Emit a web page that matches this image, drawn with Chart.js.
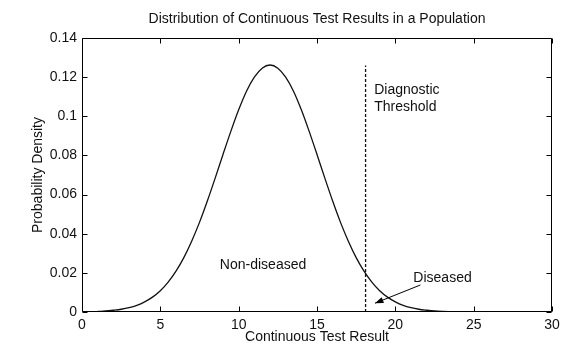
<!DOCTYPE html>
<html>
<head>
<meta charset="utf-8">
<script src="https://cdn.jsdelivr.net/npm/chart.js@4.4.0/dist/chart.umd.min.js"></script>
<style>
html, body { margin: 0; padding: 0; background: #fff; }
#wrap { width: 561px; height: 344px; }
</style>
</head>
<body>
<div id="wrap"><canvas id="chart"></canvas></div>
<script>
// values
var testResult = [1, 1.5, 2, 2.5, 3, 3.5, 4, 4.5, 5, 5.5, 6, 6.5, 7, 7.5, 8, 8.5, 9, 9.5, 10, 10.5, 11, 11.5, 12,
    12.5, 13, 13.5, 14, 14.5, 15, 15.5, 16, 16.5, 17, 17.5, 18, 18.5, 19, 19.5, 20, 20.5, 21, 21.5, 22, 22.5, 23, 24, 25, 30];
var density = [0.0003, 0.0005, 0.0009, 0.0014, 0.0022, 0.0034, 0.0052, 0.0076, 0.0109, 0.0153, 0.0209, 0.0278, 0.0362, 0.0458, 0.0567, 0.0684, 0.0805, 0.0923, 0.1033, 0.1128, 0.1200, 0.1246, 0.1262,
    0.1246, 0.1200, 0.1128, 0.1033, 0.0923, 0.0805, 0.0684, 0.0567, 0.0458, 0.0362, 0.0278, 0.0209, 0.0153, 0.0109, 0.0076, 0.0052, 0.0034, 0.0022, 0.0014, 0.0009, 0.0005, 0.0003, 0.0001, 0, 0];
var thresholdX = [18.1, 18.1];
var thresholdY = [0, 0.126];
var xTicks = [0, 5, 10, 15, 20, 25, 30];
var yTicks = [0, 0.02, 0.04, 0.06, 0.08, 0.1, 0.12, 0.14];
var yTickLabels = ['0', '0.02', '0.04', '0.06', '0.08', '0.1', '0.12', '0.14'];

var fontFamily = 'Arial, "Liberation Sans", sans-serif';
Chart.defaults.color = '#111';
Chart.defaults.font.family = fontFamily;

function toPoints(xs, ys) {
    return xs.map(function(x, i) { return {x: x, y: ys[i]}; });
}

// box around the axes with inward ticks on all four sides, plus the text notes
var framePlugin = {
    id: 'frame',
    afterDraw: function(chart) {
        var ctx = chart.ctx;
        var a = chart.chartArea;
        var sx = chart.scales.x;
        var sy = chart.scales.y;
        var L = Math.round(a.left) + 0.5, R = Math.round(a.right) - 0.5;
        var T = Math.round(a.top) + 0.5, B = Math.round(a.bottom) - 0.5;
        var tl = 5;

        ctx.save();
        ctx.strokeStyle = '#000';
        ctx.lineWidth = 1;
        ctx.beginPath();
        ctx.rect(L, T, R - L, B - T);
        xTicks.forEach(function(v) {
            var p = Math.round(sx.getPixelForValue(v)) + 0.5;
            ctx.moveTo(p, B); ctx.lineTo(p, B - tl);
            ctx.moveTo(p, T); ctx.lineTo(p, T + tl);
        });
        yTicks.forEach(function(v) {
            var p = Math.round(sy.getPixelForValue(v)) + 0.5;
            ctx.moveTo(L, p); ctx.lineTo(L + tl, p);
            ctx.moveTo(R, p); ctx.lineTo(R - tl, p);
        });
        ctx.stroke();

        // notes
        ctx.fillStyle = '#111';
        ctx.font = '14px ' + fontFamily;
        ctx.textAlign = 'left';
        ctx.textBaseline = 'middle';
        ctx.fillText('Diagnostic', sx.getPixelForValue(18.65), sy.getPixelForValue(0.1134));
        ctx.fillText('Threshold', sx.getPixelForValue(18.65), sy.getPixelForValue(0.1045));
        ctx.fillText('Non-diseased', sx.getPixelForValue(8.8), sy.getPixelForValue(0.024));
        ctx.fillText('Diseased', sx.getPixelForValue(21.15), sy.getPixelForValue(0.0174));

        // arrow pointing at the diseased tail
        var x1 = sx.getPixelForValue(21.6), y1 = sy.getPixelForValue(0.0138);
        var x2 = sx.getPixelForValue(18.7), y2 = sy.getPixelForValue(0.0045);
        var ang = Math.atan2(y2 - y1, x2 - x1);
        ctx.beginPath();
        ctx.moveTo(x1, y1);
        ctx.lineTo(x2, y2);
        ctx.stroke();
        ctx.beginPath();
        ctx.moveTo(x2, y2);
        ctx.lineTo(x2 - 9 * Math.cos(ang - 0.35), y2 - 9 * Math.sin(ang - 0.35));
        ctx.lineTo(x2 - 9 * Math.cos(ang + 0.35), y2 - 9 * Math.sin(ang + 0.35));
        ctx.closePath();
        ctx.fillStyle = '#000';
        ctx.fill();
        ctx.restore();
    }
};

new Chart(document.getElementById('chart'), {
    type: 'scatter',
    data: {
        datasets: [{
            label: 'Density',
            data: toPoints(testResult, density),
            showLine: true,
            borderColor: '#111',
            borderWidth: 1.3,
            pointRadius: 0,
            cubicInterpolationMode: 'monotone'
        }, {
            label: 'Threshold',
            data: toPoints(thresholdX, thresholdY),
            showLine: true,
            borderColor: '#111',
            borderWidth: 1.3,
            borderDash: [3, 2],
            pointRadius: 0
        }]
    },
    options: {
        responsive: true,
        maintainAspectRatio: false,
        animation: false,
        layout: {
            padding: {left: 0, right: 9, top: 0, bottom: 0}
        },
        plugins: {
            legend: {display: false},
            tooltip: {enabled: false},
            title: {
                display: true,
                fullSize: false,
                text: 'Distribution of Continuous Test Results in a Population',
                color: '#111',
                font: {size: 14, weight: 'normal', lineHeight: 1.2},
                padding: {top: 10.6, bottom: 10.6}
            }
        },
        scales: {
            x: {
                type: 'linear',
                min: 0,
                max: 30,
                afterBuildTicks: function(scale) {
                    scale.ticks = xTicks.map(function(v) { return {value: v}; });
                },
                afterFit: function(scale) {
                    scale.height = 32;
                    scale.paddingLeft = 0;
                    scale.paddingRight = 0;
                },
                grid: {display: false, drawTicks: false},
                border: {display: false},
                ticks: {
                    padding: 5,
                    maxRotation: 0,
                    autoSkip: false,
                    font: {size: 14},
                    callback: function(v) { return String(v); }
                },
                title: {
                    display: true,
                    text: 'Continuous Test Result',
                    font: {size: 14, lineHeight: 1.0},
                    padding: {top: 0, bottom: 0}
                }
            },
            y: {
                type: 'linear',
                min: 0,
                max: 0.14,
                afterBuildTicks: function(scale) {
                    scale.ticks = yTicks.map(function(v) { return {value: v}; });
                },
                afterFit: function(scale) { scale.width = 82; },
                grid: {display: false, drawTicks: false},
                border: {display: false},
                ticks: {
                    padding: 5,
                    autoSkip: false,
                    font: {size: 14},
                    callback: function(v, i) { return yTickLabels[i]; }
                },
                title: {
                    display: true,
                    text: 'Probability Density',
                    font: {size: 14, lineHeight: 1.2},
                    padding: {top: 29.6, bottom: 0}
                }
            }
        }
    },
    plugins: [framePlugin]
});
</script>
</body>
</html>
